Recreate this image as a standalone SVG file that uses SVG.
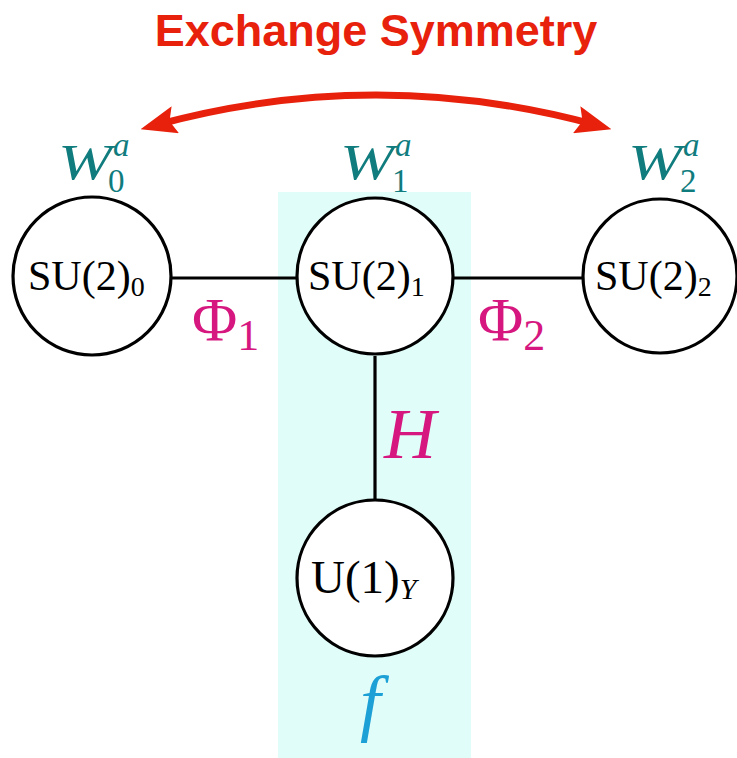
<svg xmlns="http://www.w3.org/2000/svg" width="737" height="758" viewBox="0 0 737 758">
<style>
.node{fill:#fff;stroke:#000;stroke-width:3.2}
.edge{stroke:#000;stroke-width:3.2;fill:none}
.lab{font-family:"Liberation Serif",serif;fill:#000}
.w{font-family:"Liberation Serif",serif;fill:#107c7e}
.mag{font-family:"Liberation Serif",serif;fill:#d6177f}
.it{font-style:italic}
</style>
<defs>
<marker id="ah" viewBox="0 0 36 28" refX="20" refY="14" markerWidth="36" markerHeight="28" markerUnits="userSpaceOnUse" orient="auto-start-reverse">
<path d="M0,0 L36,14 L0,28 L6,14 Z" fill="#e8210c"/>
</marker>
</defs>
<rect id="highlight" x="278" y="192" width="193" height="566" fill="#e1fdf9"/>
<g id="connectors">
<line class="edge" x1="171" y1="278" x2="297" y2="278"/>
<line class="edge" x1="454" y1="278" x2="583" y2="278"/>
<line class="edge" x1="375" y1="356" x2="375" y2="500"/>
<path d="M156,125 Q376,65 596,125" fill="none" stroke="#e8210c" stroke-width="7" marker-start="url(#ah)" marker-end="url(#ah)"/>
</g>
<text x="376" y="46" text-anchor="middle" font-family="Liberation Sans,Arial,sans-serif" font-weight="bold" font-size="45" fill="#e8210c">Exchange Symmetry</text>
<g id="n0">
<circle class="node" cx="92" cy="276" r="79"/>
<text class="lab" x="28" y="290" font-size="42">SU(2)<tspan font-size="28" dy="6">0</tspan></text>
</g>
<g id="n1">
<circle class="node" cx="375" cy="276" r="78"/>
<text class="lab" x="308" y="290" font-size="42">SU(2)<tspan font-size="28" dy="6">1</tspan></text>
</g>
<g id="n2">
<circle class="node" cx="660" cy="276" r="77"/>
<text class="lab" x="595" y="290" font-size="42">SU(2)<tspan font-size="28" dy="6">2</tspan></text>
</g>
<g id="n3">
<circle class="node" cx="375" cy="578" r="78"/>
<text class="lab" x="311" y="593" font-size="47">U(1)<tspan class="it" font-size="30" dy="6">Y</tspan></text>
</g>
<g id="labels">
<text class="w it" x="58" y="179" font-size="50" textLength="54" lengthAdjust="spacingAndGlyphs">W</text>
<text class="w it" x="113" y="156" font-size="33">a</text>
<text class="w" x="108" y="192" font-size="33">0</text>
<text class="w it" x="340" y="179" font-size="50" textLength="54" lengthAdjust="spacingAndGlyphs">W</text>
<text class="w it" x="395" y="156" font-size="33">a</text>
<text class="w" x="392" y="192" font-size="33">1</text>
<text class="w it" x="628" y="179" font-size="50" textLength="54" lengthAdjust="spacingAndGlyphs">W</text>
<text class="w it" x="683" y="156" font-size="33">a</text>
<text class="w" x="680" y="192" font-size="33">2</text>
<text class="mag" x="192" y="340" font-size="62">Φ<tspan font-size="44" dy="10">1</tspan></text>
<text class="mag" x="478" y="340" font-size="62">Φ<tspan font-size="44" dy="10">2</tspan></text>
<text class="mag it" x="384" y="458" font-size="72">H</text>
<text class="it" x="360" y="727" font-size="74" font-family="Liberation Serif,serif" fill="#1da0d6">f</text>
</g>
</svg>
